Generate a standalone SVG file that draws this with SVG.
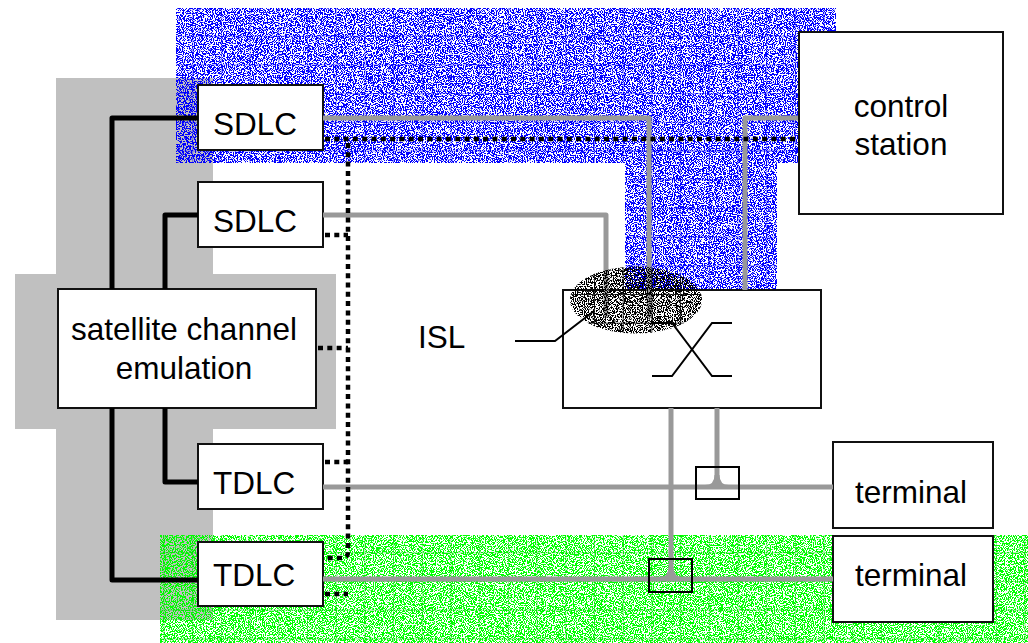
<svg xmlns="http://www.w3.org/2000/svg" width="1028" height="643" viewBox="0 0 1028 643">
<style>
.box{fill:#fff;stroke:#111;stroke-width:2}
.lbl{font-family:"Liberation Sans",Arial,sans-serif;font-size:31.5px;fill:#000}
.blk{fill:none;stroke:#000;stroke-width:5;stroke-linejoin:round}
.gry{fill:none;stroke:#999;stroke-width:5;stroke-linejoin:round}
.dot{fill:none;stroke:#000;stroke-width:4.5;stroke-dasharray:5 4.3}
.thin{fill:none;stroke:#000;stroke-width:2}
.jbox{fill:none;stroke:#000;stroke-width:2}
</style>
<defs>
<filter id="nzB" x="0" y="0" width="100%" height="100%" color-interpolation-filters="sRGB">
<feTurbulence type="fractalNoise" baseFrequency="0.9" numOctaves="2" seed="4" result="t"/>
<feColorMatrix in="t" type="matrix" values="0 0 0 0 0  0 0 0 0 0  0 0 0 0 1  -30 0 0 0 15.6" result="m"/>
<feComposite in="m" in2="SourceGraphic" operator="in"/>
</filter>
<filter id="nzG" x="0" y="0" width="100%" height="100%" color-interpolation-filters="sRGB">
<feTurbulence type="fractalNoise" baseFrequency="0.9" numOctaves="2" seed="9" result="t"/>
<feColorMatrix in="t" type="matrix" values="0 0 0 0 0  0 0 0 0 1  0 0 0 0 0  -30 0 0 0 15.6" result="m"/>
<feComposite in="m" in2="SourceGraphic" operator="in"/>
</filter>
<filter id="nzK" x="0" y="0" width="100%" height="100%" color-interpolation-filters="sRGB">
<feTurbulence type="fractalNoise" baseFrequency="0.9" numOctaves="2" seed="13" result="t"/>
<feColorMatrix in="t" type="matrix" values="0 0 0 0 0  0 0 0 0 0  0 0 0 0 0  -30 0 0 0 15.5" result="m"/>
<feComposite in="m" in2="SourceGraphic" operator="in"/>
</filter>
<pattern id="gB" patternUnits="userSpaceOnUse" x="20" y="7" width="28.7" height="28.7">
<path d="M0,0.5H28.7M0.5,0V28.7" stroke="#0000ff" stroke-opacity="0.45" stroke-width="1" fill="none"/>
</pattern>
<pattern id="gG" patternUnits="userSpaceOnUse" x="20" y="7" width="28.7" height="28.7">
<path d="M0,0.5H28.7M0.5,0V28.7" stroke="#00cc00" stroke-opacity="0.45" stroke-width="1" fill="none"/>
</pattern>
<pattern id="gK" patternUnits="userSpaceOnUse" x="20" y="7" width="28.7" height="28.7">
<path d="M0,0.5H28.7M0.5,0V28.7" stroke="#000" stroke-opacity="0.8" stroke-width="1" fill="none"/>
</pattern>
</defs>
<rect width="1028" height="643" fill="#fff"/>
<g id="background">
<polygon points="56,78 213,78 213,274 336,274 336,429 213,429 213,620 56,620 56,429 15,429 15,274 56,274" fill="#c0c0c0"/>
<rect x="176" y="8" width="660" height="155" fill="#00f" filter="url(#nzB)"/>
<rect x="176" y="8" width="660" height="155" fill="url(#gB)"/>
<rect x="625" y="150" width="152" height="140" fill="#00f" filter="url(#nzB)"/>
<rect x="625" y="150" width="152" height="140" fill="url(#gB)"/>
<rect x="160" y="535" width="868" height="108" fill="#0f0" filter="url(#nzG)"/>
<rect x="160" y="535" width="868" height="108" fill="url(#gG)"/>
</g>
<g id="sdlc1"><rect class="box" x="198" y="85" width="125" height="65"/><text class="lbl" x="213" y="135">SDLC</text></g>
<g id="sdlc2"><rect class="box" x="198" y="182" width="125" height="65"/><text class="lbl" x="213" y="232">SDLC</text></g>
<g id="tdlc1"><rect class="box" x="198" y="444" width="125" height="65"/><text class="lbl" x="213" y="494">TDLC</text></g>
<g id="tdlc2"><rect class="box" x="198" y="542" width="125" height="64"/><text class="lbl" x="213" y="586">TDLC</text></g>
<g id="emulation"><rect class="box" x="58" y="289" width="258" height="119"/><text class="lbl" x="184" y="340" text-anchor="middle">satellite channel</text><text class="lbl" x="184" y="379" text-anchor="middle">emulation</text></g>
<g id="control"><rect class="box" x="799" y="32" width="204" height="182"/><text class="lbl" x="901" y="117" text-anchor="middle">control</text><text class="lbl" x="901" y="155" text-anchor="middle">station</text></g>
<g id="terminal1"><rect class="box" x="833" y="442" width="160" height="86"/><text class="lbl" x="911" y="503" text-anchor="middle">terminal</text></g>
<g id="terminal2"><rect class="box" x="833" y="536" width="160" height="86"/><text class="lbl" x="911" y="586" text-anchor="middle">terminal</text></g>
<g id="switch"><rect class="box" x="563" y="290" width="258" height="118"/><path class="thin" d="M652,323H672L712,376H732M652,376H672L712,323H732"/></g>
<g id="connectors">
<path class="blk" d="M198,118H112V289M112,408V580H198"/>
<path class="blk" d="M198,215H165V289M165,408V482H198"/>
<path class="gry" d="M323,118H649V318"/>
<path class="gry" d="M798,118H745V290"/>
<path class="gry" d="M323,215H606V318"/>
<path class="gry" d="M671,408V579"/>
<path class="gry" d="M717,408V487"/>
<path class="gry" d="M323,487H833"/>
<path class="gry" d="M323,579H833"/>
<path d="M705,485Q714.5,485 714.5,475H719.5Q719.5,485 729,485Z" fill="#999"/>
<path d="M659,577Q668.5,577 668.5,567H673.5Q673.5,577 683,577Z" fill="#999"/>
<rect class="jbox" x="696" y="467" width="43" height="32"/>
<rect class="jbox" x="649" y="559" width="43" height="33"/>
<path class="dot" d="M325,139H798"/>
<path class="dot" d="M348,143V552Q348,558 342,558H325"/>
<path class="dot" d="M325,235H348"/>
<path class="dot" d="M318,348H348"/>
<path class="dot" d="M325,462H348"/>
<path class="dot" d="M325,594H348"/>
</g>
<g id="isl">
<ellipse cx="636" cy="300" rx="66" ry="33.5" fill="#000" filter="url(#nzK)"/>
<ellipse cx="636" cy="300" rx="66" ry="33.5" fill="url(#gK)"/>
<path class="thin" d="M515,341H555L594,311"/>
<text class="lbl" x="418" y="348">ISL</text>
</g>
</svg>
